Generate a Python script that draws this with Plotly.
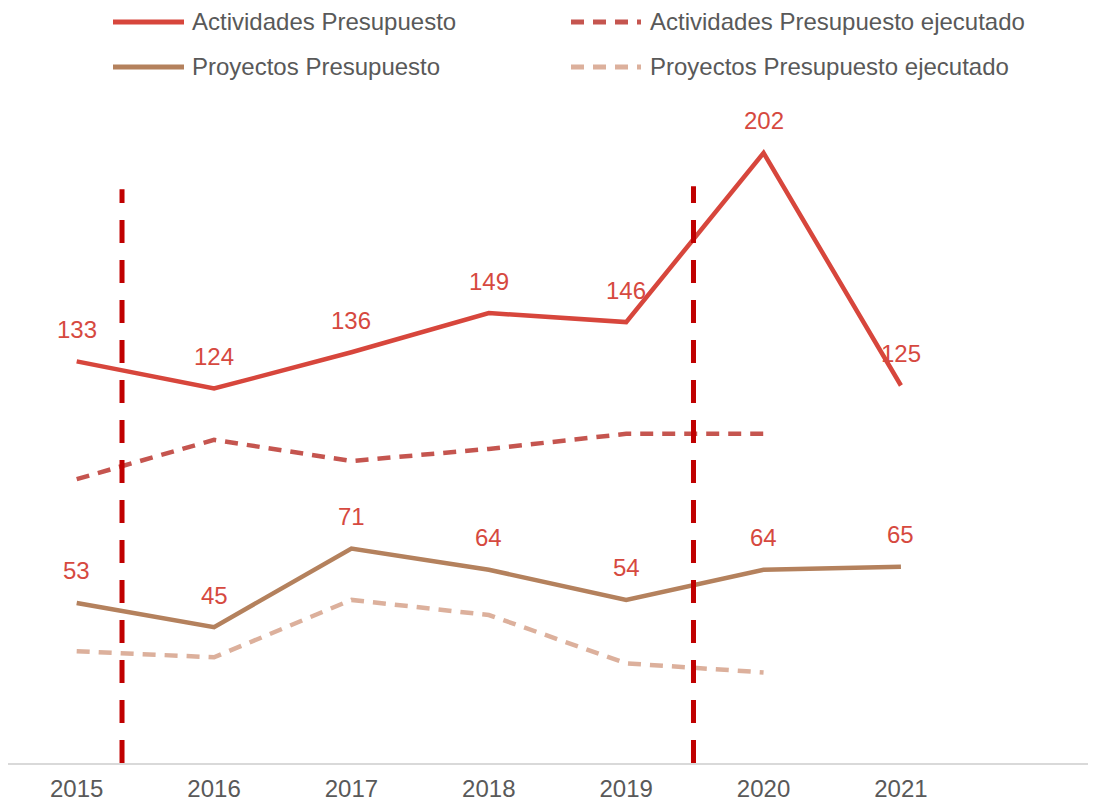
import plotly.graph_objects as go

# ---- data ----
years = ["2015", "2016", "2017", "2018", "2019", "2020", "2021"]
act_budget = [133, 124, 136, 149, 146, 202, 125]
act_exec = [94, 107, 100, 104, 109, 109, None]
proj_budget = [53, 45, 71, 64, 54, 64, 65]
proj_exec = [37, 35, 54, 49, 33, 30, None]

series_names = ["Actividades Presupuesto", "Actividades Presupuesto ejecutado",
                "Proyectos Presupuesto", "Proyectos Presupuesto ejecutado"]
series_values = [act_budget, act_exec, proj_budget, proj_exec]
series_colors = ["#d7463c", "#c5554f", "#b4815d", "#dcb09c"]
series_dash = ["solid", "13px,9px", "solid", "13px,9px"]
labelled = [True, False, True, False]

# vertical markers (category position, top value)
vline_pos = [0.33, 4.49]
vline_top = [190, 191]

LABEL_COLOR = "#d6493f"
TEXT_GRAY = "#595959"
FONT = "Liberation Sans, Arial, sans-serif"

# page body has an 8px margin: figure is placed at (8, 8)
OFF = 8
W, H = 1096 - OFF, 802 - OFF
L, R, T, B = 0, 0, 100 - OFF, 39
pw, ph = W - L - R, H - T - B

fig = go.Figure()
for name, vals, col, dash in zip(series_names, series_values, series_colors, series_dash):
    fig.add_trace(go.Scatter(
        x=years, y=vals, mode="lines", name=name,
        line=dict(color=col, width=4.5, dash=dash),
        connectgaps=False, showlegend=False, hoverinfo="skip"))

annotations = []
for vals, lab in zip(series_values, labelled):
    if not lab:
        continue
    for i, v in enumerate(vals):
        if v is None:
            continue
        annotations.append(dict(x=i, y=v, xref="x", yref="y", text=str(v),
                                showarrow=False, yshift=32, yanchor="middle",
                                font=dict(family=FONT, size=24, color=LABEL_COLOR)))

shapes = []
for xp, top in zip(vline_pos, vline_top):
    shapes.append(dict(type="line", xref="x", yref="y", x0=xp, x1=xp, y0=0, y1=top,
                       line=dict(color="#c00000", width=5, dash="23px,17px"),
                       layer="above"))

# custom legend (two columns); positions in page pixels
def px_x(p):
    return (p - OFF - L) / pw

def px_y(p):
    return (T + ph - (p - OFF)) / ph

legend_cols = [(113, 184, 190), (571, 641, 648)]
legend_rows = [22, 67]
for i, (name, col, dash) in enumerate(zip(series_names, series_colors, series_dash)):
    x0, x1, xt = legend_cols[i % 2]
    yy = legend_rows[i // 2]
    shapes.append(dict(type="line", xref="paper", yref="paper",
                       x0=px_x(x0), x1=px_x(x1), y0=px_y(yy), y1=px_y(yy),
                       line=dict(color=col, width=5, dash=dash)))
    annotations.append(dict(x=px_x(xt), y=px_y(yy), xref="paper", yref="paper",
                            text=name, showarrow=False, xanchor="left", yanchor="middle",
                            font=dict(family=FONT, size=24, color=TEXT_GRAY)))

fig.update_layout(
    width=W, height=H,
    margin=dict(l=L, r=R, t=T, b=B, pad=0, autoexpand=False),
    paper_bgcolor="white", plot_bgcolor="white",
    showlegend=False,
    shapes=shapes, annotations=annotations,
    font=dict(family=FONT, size=24, color=TEXT_GRAY),
    xaxis=dict(type="category", range=[-0.5, 7.42], showgrid=False, zeroline=False,
               showline=True, linecolor="#d9d9d9", linewidth=2, ticks="",
               ticklabelstandoff=3, automargin=False,
               tickfont=dict(family=FONT, size=24, color=TEXT_GRAY),
               fixedrange=True),
    yaxis=dict(range=[0, ph / 3.02], showgrid=False, zeroline=False, showline=False,
               showticklabels=False, ticks="", fixedrange=True, automargin=False),
)

fig.write_html("out.html")
